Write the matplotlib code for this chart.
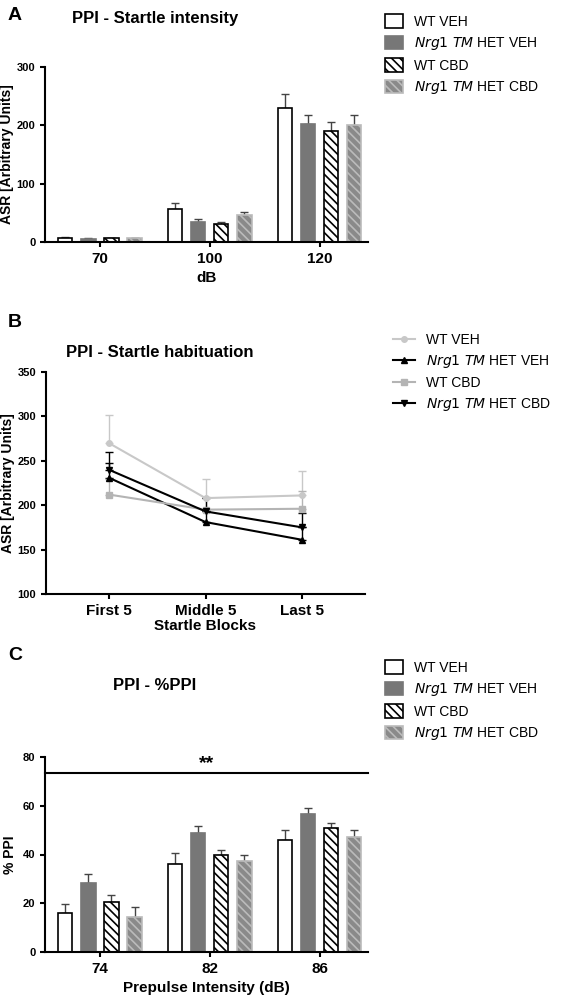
import matplotlib
matplotlib.use("Agg")
import matplotlib.pyplot as plt
import numpy as np
from matplotlib.patches import Patch
from matplotlib.lines import Line2D

plt.rcParams['font.family'] = ['Liberation Sans', 'DejaVu Sans']
plt.rcParams['hatch.linewidth'] = 1.2

groups = ["WT VEH", "$\\it{Nrg1\\ TM}$ HET VEH", "WT CBD", "$\\it{Nrg1\\ TM}$ HET CBD"]
a_cats = ["70", "100", "120"]
a_vals = [[7, 57, 229], [5, 35, 202], [6, 30, 191], [6, 46, 200]]
a_err = [[2, 10, 25], [1.5, 5, 15], [1.5, 4, 15], [1.5, 6, 17]]
b_cats = ["First 5", "Middle 5", "Last 5"]
b_vals = [[270, 208, 211], [231, 181, 161], [212, 195, 196], [240, 193, 175]]
b_err = [[32, 22, 28], [16, 12, 14], [18, 14, 20], [20, 15, 16]]
c_cats = ["74", "82", "86"]
c_vals = [[16, 36, 46], [28.5, 49, 56.5], [20.5, 40, 51], [14.5, 37.5, 47]]
c_err = [[3.5, 4.5, 4], [3.5, 2.5, 2.5], [3, 2, 2], [4, 2.5, 3]]

W, H = 566, 1005
fig = plt.figure(figsize=(W/100, H/100), dpi=100)
def ax_px(x0, y0, x1, y1):
    return fig.add_axes([x0/W, 1-y1/H, (x1-x0)/W, (y1-y0)/H])

styles = [dict(facecolor='white', edgecolor='black', hatch=None),
          dict(facecolor='#777777', edgecolor='#777777', hatch=None),
          dict(facecolor='white', edgecolor='black', hatch='\\\\\\\\'),
          dict(facecolor='#8a8a8a', edgecolor='#bbbbbb', hatch='\\\\\\\\')]

def style_ax(ax):
    for s in ['top', 'right']:
        ax.spines[s].set_visible(False)
    ax.spines['left'].set_linewidth(1.5)
    ax.spines['bottom'].set_linewidth(1.5)
    ax.tick_params(width=1.5)
    ax.tick_params(axis='y', labelsize=8)
    ax.tick_params(axis='x', labelsize=11)
    for t in ax.get_yticklabels() + ax.get_xticklabels():
        t.set_fontweight('bold')

def bars(ax, cats, vals, errs):
    x = np.arange(len(cats))
    w = 0.13
    offs = [-1.5, -0.5, 0.5, 1.5]
    for i in range(4):
        st = styles[i]
        ax.bar(x + offs[i]*0.21, vals[i], w, facecolor=st['facecolor'],
               edgecolor=st['edgecolor'], hatch=st['hatch'], linewidth=1.2, zorder=2)
        ax.errorbar(x + offs[i]*0.21, vals[i], yerr=[np.zeros(3), errs[i]],
                    fmt='none', ecolor='#444444', elinewidth=1, capsize=3, zorder=1)
    ax.set_xticks(x)
    ax.set_xticklabels(cats)
    ax.set_xlim(-0.5, 2.44)

def bar_legend(y0):
    handles = [Patch(facecolor=s['facecolor'], edgecolor=s['edgecolor'], hatch=s['hatch'], linewidth=1.2) for s in styles]
    fig.legend(handles, groups, loc='upper left', bbox_to_anchor=(372/W, 1-y0/H),
               frameon=False, fontsize=10, handlelength=1.3, handleheight=1.1, labelspacing=0.45)

# Panel A
ax = ax_px(45, 67, 368, 242)
bars(ax, a_cats, a_vals, a_err)
ax.set_ylim(0, 300)
ax.set_yticks([0, 100, 200, 300])
ax.set_ylabel("ASR [Arbitrary Units]", fontsize=10, fontweight='bold', labelpad=2)
ax.set_xlabel("dB", fontsize=11, fontweight='bold')
style_ax(ax)
fig.text(155/W, 1-18/H, "PPI - Startle intensity", fontsize=12, fontweight='bold', ha='center', va='center')
bar_legend(2)

# Panel B
ax = ax_px(46, 372, 365, 594)
x = np.arange(3)
lstyle = [dict(color='#c8c8c8', marker='o'), dict(color='black', marker='^'),
          dict(color='#b4b4b4', marker='s'), dict(color='black', marker='v')]
for i in range(4):
    ax.errorbar(x, b_vals[i], yerr=[np.zeros(3), b_err[i]], color=lstyle[i]['color'],
                marker=lstyle[i]['marker'], markersize=4, linewidth=1.5, capsize=3, elinewidth=1)
ax.set_xlim(-0.65, 2.65)
ax.set_ylim(100, 350)
ax.set_yticks([100, 150, 200, 250, 300, 350])
ax.set_xticks(x)
ax.set_xticklabels(b_cats)
ax.set_ylabel("ASR [Arbitrary Units]", fontsize=10, fontweight='bold', labelpad=2)
ax.set_xlabel("Startle Blocks", fontsize=11, fontweight='bold', labelpad=1)
style_ax(ax)
fig.text(160/W, 1-352/H, "PPI - Startle habituation", fontsize=12, fontweight='bold', ha='center', va='center')
fig.text(8/W, 1-322/H, "B", fontsize=14, fontweight='bold', va='center')
lh = [Line2D([], [], color=s['color'], marker=s['marker'], markersize=4, linewidth=1.5) for s in lstyle]
fig.legend(lh, groups, loc='upper left', bbox_to_anchor=(380/W, 1-320/H), frameon=False,
           fontsize=10, handlelength=1.6, labelspacing=0.45)

# Panel C
ax = ax_px(45, 757, 368, 952)
bars(ax, c_cats, c_vals, c_err)
ax.set_ylim(0, 80)
ax.set_yticks([0, 20, 40, 60, 80])
ax.set_ylabel("% PPI", fontsize=10, fontweight='bold')
ax.set_xlabel("Prepulse Intensity (dB)", fontsize=11, fontweight='bold')
style_ax(ax)
ax.plot([-0.5, 2.44], [73.5, 73.5], color='black', linewidth=1.5, clip_on=False)
ax.text(0.97, 73.8, "**", ha='center', va='bottom', fontsize=14, fontweight='bold')
fig.text(155/W, 1-686/H, "PPI - %PPI", fontsize=12, fontweight='bold', ha='center', va='center')
fig.text(8/W, 1-655/H, "C", fontsize=14, fontweight='bold', va='center')
bar_legend(648)

fig.text(8/W, 1-16/H, "A", fontsize=14, fontweight='bold', va='center')

fig.savefig("out.png", dpi=100)
